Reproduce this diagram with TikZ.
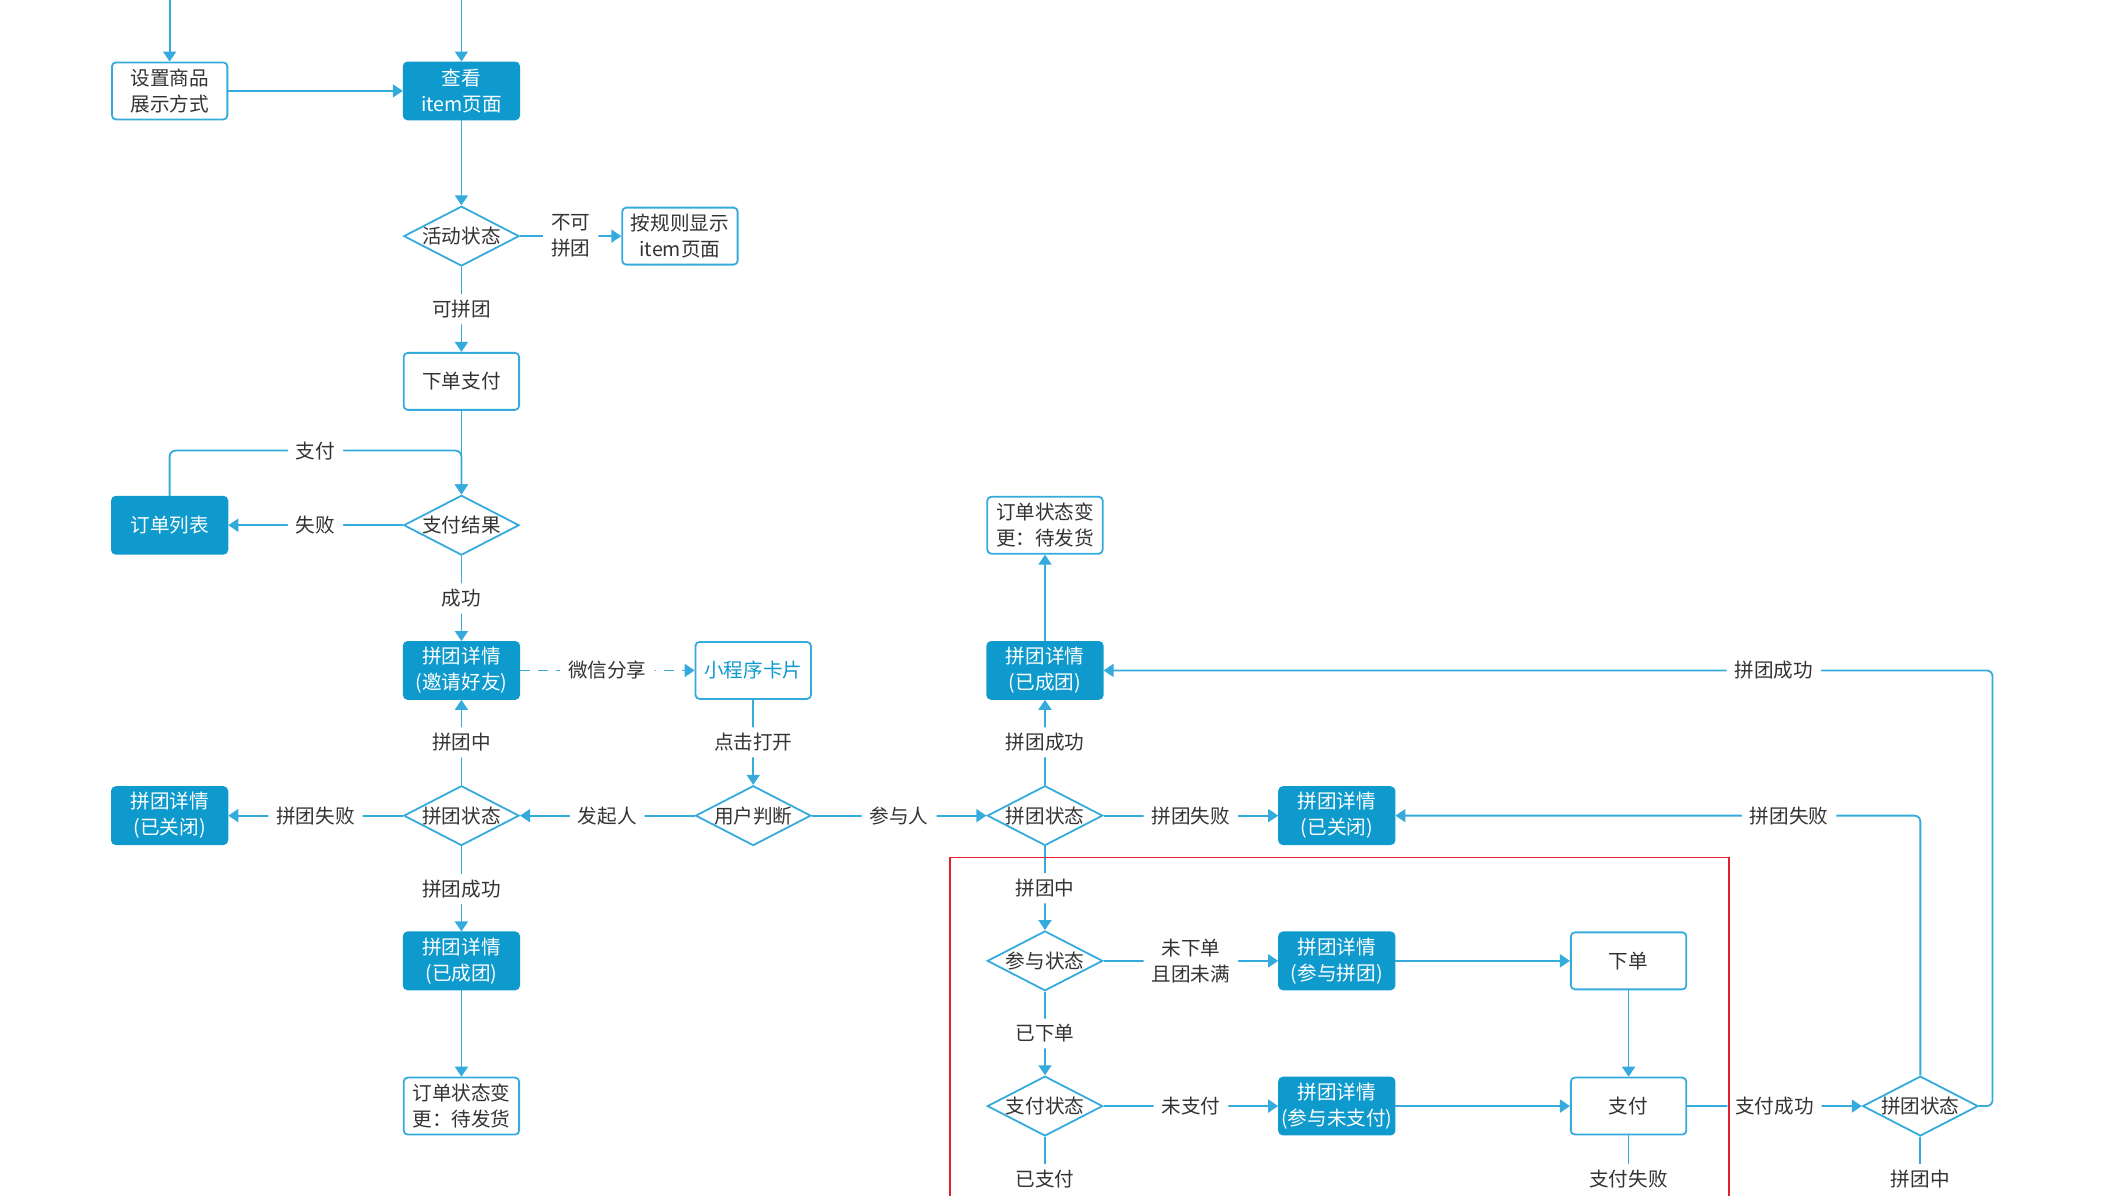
\documentclass[tikz,border=0pt]{standalone}
\usepackage{fontspec}
\setmainfont{Noto Sans CJK SC}
\usetikzlibrary{shapes.geometric,arrows.meta}
\definecolor{pblue}{HTML}{0E9ACC}
\definecolor{lblue}{HTML}{35ABDD}
\definecolor{txt}{HTML}{333333}
\definecolor{redframe}{HTML}{E0202E}
\begin{document}
\begin{tikzpicture}[x=0.6785pt, y=-0.6785pt,
  font=\fontsize{9.8}{13}\selectfont, text=txt,
  conn/.style={draw=lblue, line width=0.9pt, rounded corners=3pt},
  arr/.style={conn, -{Triangle[length=5pt, width=6.5pt]}},
  wbox/.style={draw=lblue, line width=0.9pt, fill=white, rounded corners=2pt, align=center,
    minimum width=57.7pt, minimum height=28.5pt, inner sep=1pt},
  bbox/.style={wbox, draw=pblue, fill=pblue, text=white},
  dia/.style={diamond, draw=lblue, line width=0.9pt, fill=white, aspect=1.93, inner sep=0pt,
    minimum width=57.7pt, minimum height=29.9pt, text height=7.5pt, text depth=0pt},
  lbl/.style={fill=white, inner xsep=4pt, inner ysep=3pt, align=center}]
  \useasboundingbox (0, 0) rectangle (1568, 881);
  \coordinate (top1) at (125, 0);
  \coordinate (top2) at (340, 0);
  \coordinate (j1) at (340, 332);
  \node[wbox] at (125, 67) (setup) {设置商品\\展示方式};
  \node[bbox] at (340, 67) (view) {查看\\item页面};
  \node[dia] at (340, 174) (act) {活动状态};
  \node[wbox] at (501, 174) (rule) {按规则显示\\item页面};
  \node[wbox] at (340, 281) (order) {下单支付};
  \node[dia] at (340, 387) (payres) {支付结果};
  \node[bbox] at (125, 387) (olist) {订单列表};
  \node[bbox] at (340, 494) (invite) {拼团详情\\(邀请好友)};
  \node[wbox, text=pblue] at (555, 494) (card) {小程序卡片};
  \node[dia] at (555, 601) (user) {用户判断};
  \node[dia] at (340, 601) (gs1) {拼团状态};
  \node[bbox] at (125, 601) (closed1) {拼团详情\\(已关闭)};
  \node[bbox] at (340, 708) (done1) {拼团详情\\(已成团)};
  \node[wbox] at (340, 815) (ship1) {订单状态变\\更：待发货};
  \node[dia] at (770, 601) (gs2) {拼团状态};
  \node[bbox] at (770, 494) (done2) {拼团详情\\(已成团)};
  \node[wbox] at (770, 387) (ship2) {订单状态变\\更：待发货};
  \node[bbox] at (985, 601) (closed2) {拼团详情\\(已关闭)};
  \node[dia] at (770, 708) (join) {参与状态};
  \node[bbox] at (985, 708) (joining) {拼团详情\\(参与拼团)};
  \node[wbox] at (1200, 708) (place) {下单};
  \node[dia] at (770, 815) (paystate) {支付状态};
  \node[bbox] at (985, 815) (unpaid) {拼团详情\\(参与未支付)};
  \node[wbox] at (1200, 815) (paybox) {支付};
  \node[dia] at (1415, 815) (gs3) {拼团状态};
  \node[lbl] at (770, 869) (paid) {已支付};
  \node[lbl] at (1200, 869) (payfail) {支付失败};
  \node[lbl] at (1415, 869) (still) {拼团中};
  % left part
  \draw[arr] (top1) -- (setup);
  \draw[arr] (top2) -- (view);
  \draw[arr] (setup) -- (view);
  \draw[arr] (view) -- (act);
  \draw[arr] (act) -- node[lbl] {不可\\拼团} (rule);
  \draw[arr] (act) -- node[lbl] {可拼团} (order);
  \draw[arr] (order) -- (payres);
  \draw[arr] (olist) |- node[lbl, pos=.75] {支付} (j1) -- (payres);
  \draw[arr] (payres) -- node[lbl] {失败} (olist);
  \draw[arr] (payres) -- node[lbl] {成功} (invite);
  \draw[arr, dash pattern=on 5pt off 4pt] (invite) -- node[lbl] {微信分享} (card);
  \draw[arr] (card) -- node[lbl] {点击打开} (user);
  \draw[arr] (user) -- node[lbl] {发起人} (gs1);
  \draw[arr] (gs1) -- node[lbl] {拼团中} (invite);
  \draw[arr] (gs1) -- node[lbl] {拼团失败} (closed1);
  \draw[arr] (gs1) -- node[lbl] {拼团成功} (done1);
  \draw[arr] (done1) -- (ship1);
  % right part
  \draw[arr] (user) -- node[lbl] {参与人} (gs2);
  \draw[arr] (gs2) -- node[lbl] {拼团成功} (done2);
  \draw[arr] (done2) -- (ship2);
  \draw[arr] (gs2) -- node[lbl] {拼团失败} (closed2);
  \draw[arr] (gs2) -- node[lbl] {拼团中} (join);
  \draw[arr] (join) -- node[lbl] {未下单\\且团未满} (joining);
  \draw[arr] (joining) -- (place);
  \draw[arr] (join) -- node[lbl] {已下单} (paystate);
  \draw[arr] (paystate) -- node[lbl] {未支付} (unpaid);
  \draw[arr] (unpaid) -- (paybox);
  \draw[arr] (place) -- (paybox);
  \draw[conn] (paystate) -- (paid);
  \draw[conn] (paybox) -- (payfail);
  \draw[conn] (gs3) -- (still);
  \draw[arr] (paybox) -- node[lbl] {支付成功} (gs3);
  \draw[arr] (gs3.north) |- node[lbl, pos=.625] {拼团失败} (closed2.east);
  \draw[arr] (gs3.east) -- ++(10, 0) |- node[lbl, pos=.623] {拼团成功} (done2.east);
  \draw[redframe, line width=0.6pt] (700, 881) -- (700, 632) -- (1274, 632) -- (1274, 881);
\end{tikzpicture}
\end{document}
